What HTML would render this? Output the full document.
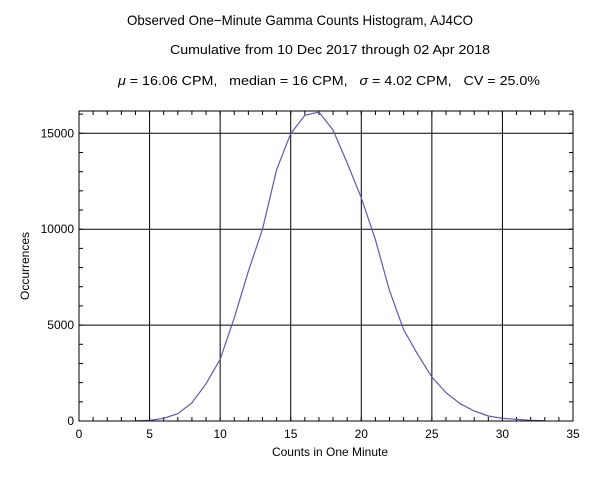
<!DOCTYPE html>
<html><head><meta charset="utf-8"><style>
html,body{margin:0;padding:0;background:#fff;}
svg{display:block;font-family:"Liberation Sans",sans-serif;}
.pre{white-space:pre;}
</style></head><body>
<svg id="chart" width="600" height="479" viewBox="0 0 600 479">
<rect width="600" height="479" fill="#fff"/>
<text x="300" y="25" font-size="14" text-anchor="middle" textLength="346" lengthAdjust="spacingAndGlyphs">Observed One−Minute Gamma Counts Histogram, AJ4CO</text>
<text x="330" y="54" font-size="13" text-anchor="middle" textLength="320" lengthAdjust="spacingAndGlyphs">Cumulative from 10 Dec 2017 through 02 Apr 2018</text>
<text class="pre" xml:space="preserve" x="329" y="85" font-size="13" text-anchor="middle" textLength="422" lengthAdjust="spacingAndGlyphs"><tspan font-style="italic">μ</tspan> = 16.06 CPM,   median = 16 CPM,   <tspan font-style="italic">σ</tspan> = 4.02 CPM,   CV = 25.0%</text>
<g id="grid"></g>
<g id="series"></g>
<rect x="79" y="111" width="494" height="310" fill="none" stroke="#000" stroke-width="1"/>
<text x="330" y="456" font-size="12" text-anchor="middle">Counts in One Minute</text>
<text x="0" y="0" font-size="12" text-anchor="middle" transform="translate(29,266) rotate(-90)">Occurrences</text>
</svg>
<script>
const counts = [4,5,6,7,8,9,10,11,12,13,14,15,16,17,18,19,20,21,22,23,24,25,26,27,28,29,30,31,32,33];
const occurrences = [5,30,140,380,950,1940,3210,5380,7810,10000,13100,14980,15940,16110,15160,13450,11630,9460,6800,4770,3470,2290,1480,900,520,260,140,90,35,15];
const xTicks = [0,5,10,15,20,25,30,35];
const yTicks = [0,5000,10000,15000];
const X0=79, X1=573, Y0=421, YT=111;
const xs = v => X0 + v*(X1-X0)/35;
const ys = v => Y0 - v*(95.9/5000);
const NS="http://www.w3.org/2000/svg";
const grid=document.getElementById('grid'), ser=document.getElementById('series');
function mk(tag,attrs,parent){const e=document.createElementNS(NS,tag);for(const k in attrs)e.setAttribute(k,attrs[k]);parent.appendChild(e);return e;}
for(let i=1;i<35;i++){
  const x=xs(i);
  mk('line',{x1:x,x2:x,y1:Y0,y2:Y0-4,stroke:'#000'},grid);
  mk('line',{x1:x,x2:x,y1:YT,y2:YT+4,stroke:'#000'},grid);
}
for(let v=1000;v<17000;v+=1000){
  const y=ys(v); if(y<YT) break;
  mk('line',{x1:X0,x2:X0+4,y1:y,y2:y,stroke:'#000'},grid);
  mk('line',{x1:X1,x2:X1-4,y1:y,y2:y,stroke:'#000'},grid);
}
xTicks.forEach(t=>{
  const x=xs(t);
  if(t>0&&t<35){const l=mk('line',{x1:x,x2:x,y1:YT,y2:Y0,stroke:'#000'},grid);
  
  }
  const tx=mk('text',{x:x,y:Y0+17,'font-size':12,'text-anchor':'middle'},grid);
  tx.textContent=t;
  
  
});
yTicks.forEach(t=>{
  const y=ys(t);
  if(t>0){const l=mk('line',{x1:X0,x2:X1,y1:y,y2:y,stroke:'#000'},grid);
  
  }
  const tx=mk('text',{x:X0-5,y:y+4,'font-size':12,'text-anchor':'end'},grid);
  tx.textContent=t;
  
  
});
const pts=counts.map((c,i)=>xs(c).toFixed(1)+','+ys(occurrences[i]).toFixed(1)).join(' ');
const pl=mk('polyline',{points:pts,fill:'none',stroke:'#5a5ab4','stroke-width':1.2},ser);


</script>
</body></html>
